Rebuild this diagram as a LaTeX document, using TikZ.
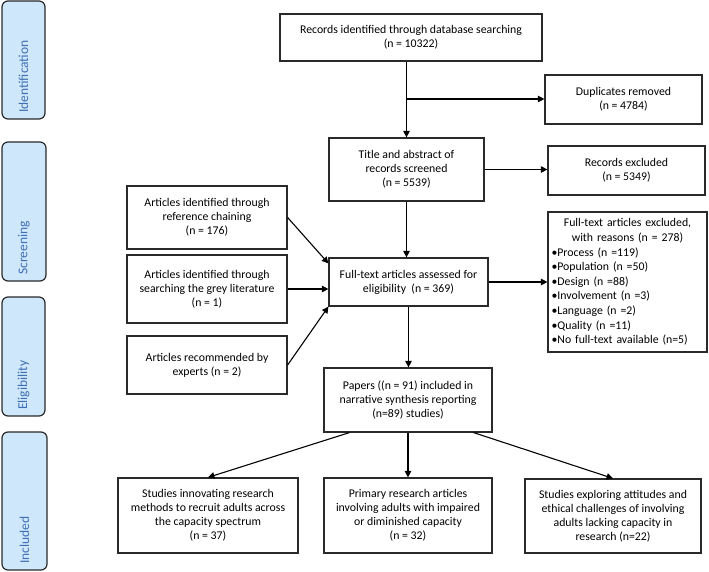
\documentclass[tikz,border=0pt]{standalone}
\usepackage{fontspec}
\setmainfont{Carlito}
\usetikzlibrary{arrows.meta}
\definecolor{phasefill}{HTML}{CFE7FA}
\definecolor{phasetext}{HTML}{3F6FB5}
\definecolor{boxline}{HTML}{2A2A2A}
\tikzset{
  flowbox/.style={draw=boxline, line width=1.2pt, fill=white, align=center, inner sep=2pt,
    font=\fontsize{11.8}{14}\selectfont},
  phasebox/.style={draw=boxline, line width=1.2pt, fill=phasefill, rounded corners=6pt},
  phaselabel/.style={rotate=90, anchor=west, text=phasetext, inner sep=0pt,
    font=\fontsize{13.5}{16}\selectfont},
  arr/.style={draw=black, line width=1.1pt, -{Triangle[length=6.5pt,width=6.5pt]}},
}
% box from (x1,y1) to (x2,y2) in pixel coordinates (y downward)
\newcommand{\pbox}[7][]{%
  \node[flowbox,#1, minimum width={(#4-#2)*1pt}, minimum height={(#5-#3)*1pt}]
    (#6) at ({(#2+#4)/2*1pt},{-(#3+#5)/2*1pt}) {#7};}
\begin{document}
\begin{tikzpicture}
\useasboundingbox (0,0) rectangle (709pt,-572pt);
% phase boxes
\foreach \nm/\lab/\xa/\ya/\xb/\yb in {idf/Identification/2/1/45/119, scr/Screening/2/142/46/281, elg/Eligibility/2/297/45/416, inc/Included/2/432/47/570}{
  \draw[phasebox] (\xa pt,-\ya pt) rectangle (\xb pt,-\yb pt);
  \node[phaselabel] (\nm) at ({(\xa+\xb)/2*1pt},{-(\yb-6)*1pt}) {\lab};
}
% flow boxes
\pbox{280}{14}{542}{61}{rec}{Records identified through database searching\\(n = 10322)}
\pbox{545}{75}{702}{124}{dup}{Duplicates removed\\(n = 4784)}
\pbox{329}{138}{484}{201}{tit}{Title and abstract of\\records screened\\(n = 5539)}
\pbox{548}{146}{705}{195}{rex}{Records excluded\\(n = 5349)}
\pbox{127}{186}{287}{249}{ref}{Articles identified through\\reference chaining\\(n = 176)}
\pbox{127}{255}{287}{323}{gry}{Articles identified through\\searching the grey literature\\(n = 1)}
\pbox{127}{336}{287}{394}{exp}{Articles recommended by\\experts (n = 2)}
\pbox{329}{258}{488}{306}{fta}{Full-text articles assessed for\\eligibility\ \ (n = 369)}
\pbox[text width=152pt, align=left, inner sep=3pt, font=\fontsize{11.8}{14.6}\selectfont]{548}{212}{707}{352}{ftx}{%
  {\centering Full-text articles excluded,\\ with reasons (n = 278)\par}%
  {\raggedright
  •Process (n =119)\\
  •Population (n =50)\\
  •Design (n =88)\\
  •Involvement (n =3)\\
  •Language (n =2)\\
  •Quality (n =11)\\
  •No full-text available (n=5)\par}}
\pbox{324}{368}{492}{432}{pap}{Papers ((n = 91) included in\\narrative synthesis reporting\\(n=89) studies)}
\pbox{118}{478}{298}{553}{inn}{Studies innovating research\\methods to recruit adults across\\the capacity spectrum\\(n = 37)}
\pbox{324}{478}{492}{553}{pri}{Primary research articles\\involving adults with impaired\\or diminished capacity\\(n = 32)}
\pbox{525}{479}{701}{553}{eth}{Studies exploring attitudes and\\ethical challenges of involving\\adults lacking capacity in\\research (n=22)}
% connectors
\coordinate (br) at (406pt,-99pt);
\draw[arr] (tit.north |- rec.south) -- (tit.north);
\draw[arr] (br) -- (br -| dup.west);
\draw[arr] (tit.east) -- (tit.east -| rex.west);
\draw[arr] (tit.south) -- (tit.south |- fta.north);
\draw[arr] (ref.east) -- ([yshift=-6pt]fta.north west);
\draw[arr] (gry.east) -- (gry.east -| fta.west);
\draw[arr] (exp.east) -- (fta.south west);
\draw[arr] (fta.east) -- (fta.east -| ftx.west);
\draw[arr] (fta.south) -- (fta.south |- pap.north);
\draw[arr] ([xshift=26pt]pap.south west) -- (inn.north);
\draw[arr] (pap.south -| pri.north) -- (pri.north);
\draw[arr] ([xshift=-19pt]pap.south east) -- (eth.north);
\end{tikzpicture}
\end{document}
